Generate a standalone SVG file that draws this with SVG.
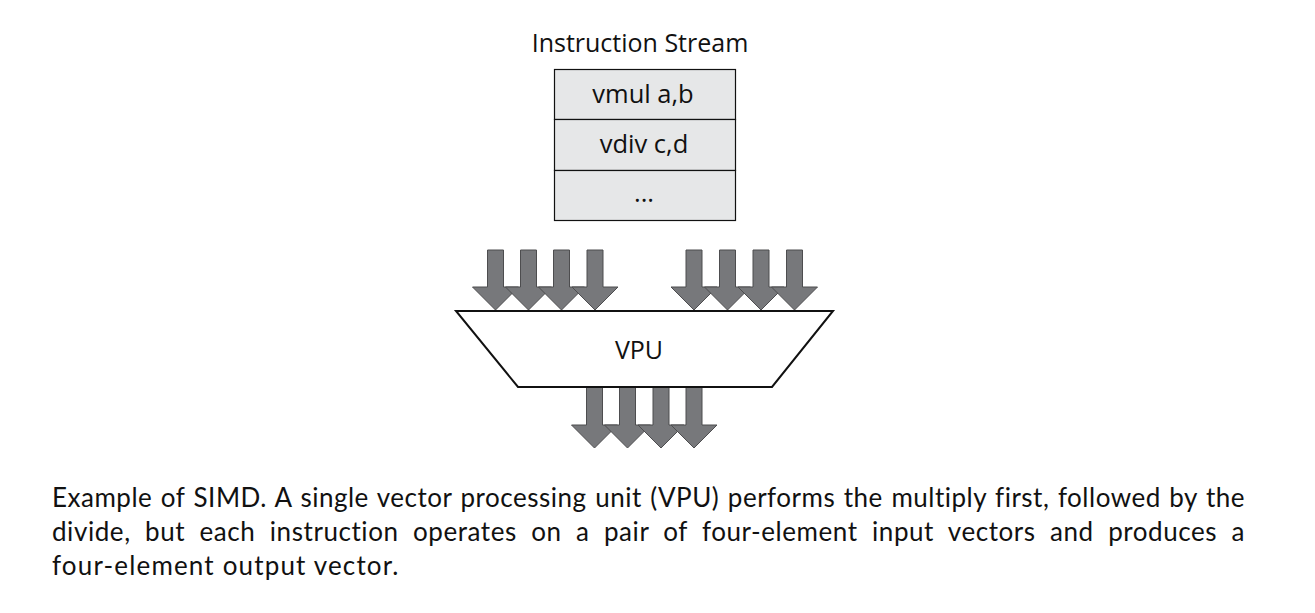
<svg xmlns="http://www.w3.org/2000/svg" width="1315" height="613" viewBox="0 0 1315 613">
  <style>
    .lbl{font-family:"Open Sans","Noto Sans",sans-serif;font-size:25px;fill:#111;text-anchor:middle}
    .cell-t{font-size:25.5px}
    .cap{font-family:"Lato","Liberation Sans",sans-serif;font-size:26px;letter-spacing:0.5px;fill:#111}
    .cell{fill:#e6e7e8;stroke:#111;stroke-width:1.2}
    .arr{fill:#77787b;stroke:#4d4d4f;stroke-width:1}
  </style>
  <defs>
    <polygon id="arrowTop" class="arr" points="-8,0 8,0 8,37 23,37 0,60 -23,37 -8,37"/>
    <polygon id="arrowBot" class="arr" points="-8,0 8,0 8,38 23,38 0,61 -23,38 -8,38"/>
  </defs>
  <rect width="1315" height="613" fill="#fff"/>

  <g id="stream">
    <text class="lbl" x="640" y="52">Instruction Stream</text>
    <rect class="cell" x="554.5" y="69.5" width="181" height="50"/>
    <rect class="cell" x="554.5" y="119.5" width="181" height="51"/>
    <rect class="cell" x="554.5" y="170.5" width="181" height="50"/>
    <text class="lbl cell-t" x="643" y="103">vmul a,b</text>
    <text class="lbl cell-t" x="644" y="153">vdiv c,d</text>
    <text class="lbl cell-t" x="644" y="202">...</text>
  </g>

  <g id="connectors">
    <use href="#arrowTop" x="495.5" y="250"/>
    <use href="#arrowTop" x="528.5" y="250"/>
    <use href="#arrowTop" x="561.5" y="250"/>
    <use href="#arrowTop" x="595" y="250"/>
    <use href="#arrowTop" x="694" y="250"/>
    <use href="#arrowTop" x="727.5" y="250"/>
    <use href="#arrowTop" x="761" y="250"/>
    <use href="#arrowTop" x="794.5" y="250"/>
    <use href="#arrowBot" x="594.5" y="387"/>
    <use href="#arrowBot" x="627.5" y="387"/>
    <use href="#arrowBot" x="661" y="387"/>
    <use href="#arrowBot" x="694" y="387"/>
  </g>

  <g id="vpu">
    <polygon points="456,311 833,311 772,387 518,387" fill="#fff" stroke="#111" stroke-width="2"/>
    <text class="lbl" x="639" y="359">VPU</text>
  </g>

  <g id="caption">
    <text class="cap" x="52" y="507" word-spacing="1.4" textLength="1193" lengthAdjust="spacing">Example of SIMD. A single vector processing unit (VPU) performs the multiply first, followed by the</text>
    <text class="cap" x="52" y="541" word-spacing="7.2" textLength="1193" lengthAdjust="spacing">divide, but each instruction operates on a pair of four-element input vectors and produces a</text>
    <text class="cap" x="52" y="575" textLength="347" lengthAdjust="spacing">four-element output vector.</text>
  </g>
</svg>
